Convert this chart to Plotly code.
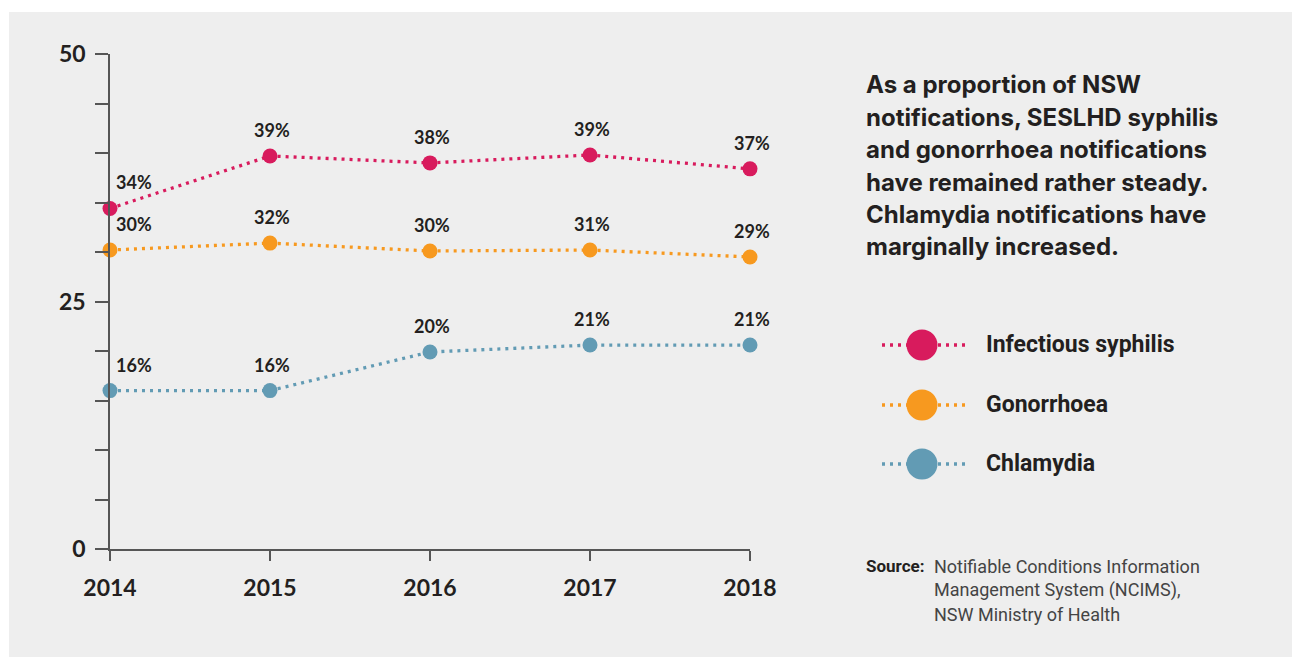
import plotly.graph_objects as go

years = [2014, 2015, 2016, 2017, 2018]
series_names = ["Infectious syphilis", "Gonorrhoea", "Chlamydia"]
syphilis = [34.4, 39.7, 39.0, 39.8, 38.4]
gonorrhoea = [30.2, 30.9, 30.1, 30.2, 29.5]
chlamydia = [16.0, 16.0, 19.9, 20.6, 20.6]
syphilis_labels = ["34%", "39%", "38%", "39%", "37%"]
gonorrhoea_labels = ["30%", "32%", "30%", "31%", "29%"]
chlamydia_labels = ["16%", "16%", "20%", "21%", "21%"]
colors = ["#D81B5D", "#F7991F", "#629BB4"]
y_tickvals = [0, 5, 10, 15, 20, 25, 30, 35, 40, 45, 50]
y_ticktext = ["0", "", "", "", "", "25", "", "", "", "", "50"]
header_lines = [
    "As a proportion of NSW",
    "notifications, SESLHD syphilis",
    "and gonorrhoea notifications",
    "have remained rather steady.",
    "Chlamydia notifications have",
    "marginally increased.",
]
source_lines = [
    "Notifiable Conditions Information",
    "Management System (NCIMS),",
    "NSW Ministry of Health",
]

W, H = 1292, 657
# plot area in screenshot px
SL, SR, ST, SB = 110, 750, 54, 549


def px(x):
    return (x - SL) / (SR - SL)


def py(y):
    return (SB - y) / (SB - ST)


values = [syphilis, gonorrhoea, chlamydia]
labels = [syphilis_labels, gonorrhoea_labels, chlamydia_labels]
TEXT = "#231F20"

fig = go.Figure()
annotations = []
shapes = []

# page background
shapes.append(dict(type="rect", xref="paper", yref="paper", x0=px(9), x1=px(1320),
                   y0=py(690), y1=py(12), fillcolor="#EEEEEE", line=dict(width=0), layer="below"))

for name, vals, labs, col in zip(series_names, values, labels, colors):
    fig.add_trace(go.Scatter(
        x=years, y=vals, name=name, mode="lines+markers",
        line=dict(color=col, width=3.3, dash="3px,5px"),
        marker=dict(color=col, size=15),
        cliponaxis=False, showlegend=False, hoverinfo="skip",
    ))
    for i, (xv, yv, lab) in enumerate(zip(years, vals, labs)):
        annotations.append(dict(
            x=xv, y=yv, xref="x", yref="y", text=lab, showarrow=False,
            xshift=24 if i == 0 else 2, yshift=26,
            font=dict(family="Lato", size=18, color=TEXT, weight="bold"),
        ))

# custom legend
legend_rows = [345, 405, 464]
for name, col, ry in zip(series_names, colors, legend_rows):
    shapes.append(dict(type="line", xref="paper", yref="paper",
                       x0=px(882), x1=px(970), y0=py(ry), y1=py(ry),
                       line=dict(color=col, width=3.3, dash="3px,5px")))
    shapes.append(dict(type="circle", xref="paper", yref="paper",
                       x0=px(906.5), x1=px(937.5), y0=py(ry + 15.5), y1=py(ry - 15.5),
                       fillcolor=col, line=dict(width=0)))
    annotations.append(dict(x=px(984), y=py(ry - 1), xref="paper", yref="paper",
                            xanchor="left", yanchor="middle", text=name, showarrow=False,
                            font=dict(family="Roboto", size=23, color=TEXT, weight="bold")))

# header text
for i, line in enumerate(header_lines):
    annotations.append(dict(x=px(864), y=py(85 + i * 32.4), xref="paper", yref="paper",
                            xanchor="left", yanchor="middle", text=line, showarrow=False,
                            font=dict(family="Inter", size=24, color=TEXT, weight="bold")))

# source
annotations.append(dict(x=px(864), y=py(566), xref="paper", yref="paper",
                        xanchor="left", yanchor="middle", text="Source:", showarrow=False,
                        font=dict(family="Roboto", size=17, color=TEXT, weight="bold")))
for i, line in enumerate(source_lines):
    annotations.append(dict(x=px(932), y=py(566 + i * 24), xref="paper", yref="paper",
                            xanchor="left", yanchor="middle", text=line, showarrow=False,
                            font=dict(family="Roboto", size=18, color="#444444")))

fig.update_layout(
    width=W, height=H,
    margin=dict(l=SL, r=W - SR, t=ST, b=H - SB, pad=0),
    paper_bgcolor="white", plot_bgcolor="rgba(0,0,0,0)",
    annotations=annotations, shapes=shapes,
    hovermode=False,
    xaxis=dict(range=[2014, 2018], tickvals=years, ticktext=[str(y) for y in years],
               showgrid=False, zeroline=False, showline=True, linecolor="#555555", linewidth=1.5,
               ticks="outside", ticklen=10, tickcolor="#555555", tickwidth=1.5,
               ticklabelstandoff=8,
               tickfont=dict(family="Lato", size=23, color=TEXT, weight="bold")),
    yaxis=dict(range=[0, 50], tickvals=y_tickvals, ticktext=y_ticktext,
               showgrid=False, zeroline=False, showline=True, linecolor="#555555", linewidth=1.5,
               ticks="outside", ticklen=13, tickcolor="#555555", tickwidth=1.5,
               ticklabelstandoff=5,
               tickfont=dict(family="Lato", size=23, color=TEXT, weight="bold")),
)

fig.write_html(
    "out.html",
    config={"displayModeBar": False},
    post_script="document.body.style.margin='0';document.documentElement.style.overflow='hidden';",
)
